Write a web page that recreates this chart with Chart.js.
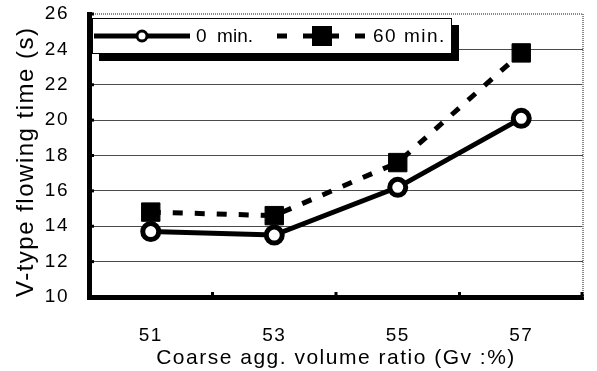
<!DOCTYPE html>
<html>
<head>
<meta charset="utf-8">
<title>V-type flowing time</title>
<script src="https://cdn.jsdelivr.net/npm/chart.js@4/dist/chart.umd.min.js"></script>
<style>
  html, body { margin: 0; padding: 0; background: #fff; }
  canvas { display: block; }
</style>
</head>
<body>
<canvas id="chart" width="597" height="371"></canvas>
<script>
// data
const ratios = ["51", "53", "55", "57"];
const time0 = [13.7, 13.5, 16.2, 20.1];
const time60 = [14.8, 14.6, 17.6, 23.8];
const yTicks = [10, 12, 14, 16, 18, 20, 22, 24, 26];
const seriesNames = ["0  min.", "60 min."];

Chart.defaults.font.family = "'Liberation Sans', Arial, sans-serif";
Chart.defaults.color = "#000";

// the original uses a widely spaced font, so open up the letter spacing
const spacedText = {
  id: "spacedText",
  beforeDraw(chart) { chart.ctx.letterSpacing = "1.5px"; },
  afterDraw(chart) { chart.ctx.letterSpacing = "0px"; }
};

// boxed legend with a drop shadow, top left of the plot
const boxLegend = {
  id: "boxLegend",
  afterDatasetsDraw(chart) {
    const { ctx, chartArea } = chart;
    const x0 = chartArea.left + 3, y0 = chartArea.top + 4;
    const w = 360, h = 36, my = y0 + h / 2;
    ctx.save();
    ctx.fillStyle = "#000";
    ctx.fillRect(x0 + 7, y0 + 7, w, h);
    ctx.fillStyle = "#fff";
    ctx.fillRect(x0, y0, w, h);
    ctx.strokeStyle = "#000";
    ctx.lineWidth = 1;
    ctx.strokeRect(x0 + 0.5, y0 + 0.5, w - 1, h - 1);

    ctx.font = "19px 'Liberation Sans', Arial, sans-serif";
    ctx.textBaseline = "middle";
    ctx.fillStyle = "#000";

    // first series: solid line, open circle
    ctx.lineWidth = 5;
    ctx.beginPath();
    ctx.moveTo(x0 + 2, my);
    ctx.lineTo(x0 + 98, my);
    ctx.stroke();
    ctx.beginPath();
    ctx.arc(x0 + 50, my, 5, 0, Math.PI * 2);
    ctx.fillStyle = "#fff";
    ctx.fill();
    ctx.lineWidth = 3;
    ctx.stroke();
    ctx.fillStyle = "#000";
    ctx.letterSpacing = "0px";
    ctx.fillText(chart.data.datasets[0].label, x0 + 104, my + 1);

    // second series: dashed line, filled square
    ctx.lineWidth = 5;
    ctx.setLineDash([10, 16]);
    ctx.beginPath();
    ctx.moveTo(x0 + 185, my);
    ctx.lineTo(x0 + 276, my);
    ctx.stroke();
    ctx.setLineDash([]);
    ctx.fillRect(x0 + 220, my - 10, 20, 20);
    ctx.letterSpacing = "1.5px";
    ctx.fillText(chart.data.datasets[1].label, x0 + 281, my + 1);
    ctx.restore();
  }
};

// dotted frame on top/right and the small tick marks inside the axes
const frameMarks = {
  id: "frameMarks",
  beforeDatasetsDraw(chart) {
    const { ctx, chartArea, scales } = chart;
    ctx.save();
    ctx.strokeStyle = "#8a8a8a";
    ctx.lineWidth = 2;
    ctx.setLineDash([1, 1]);
    ctx.beginPath();
    ctx.moveTo(chartArea.left, chartArea.top);
    ctx.lineTo(chartArea.right, chartArea.top);
    ctx.lineTo(chartArea.right, chartArea.bottom);
    ctx.stroke();
    ctx.setLineDash([]);

    ctx.fillStyle = "#000";
    yTicks.forEach(v => {
      const py = scales.y.getPixelForValue(v);
      ctx.fillRect(chartArea.left, py - 1.5, 5, 3);
    });
    for (let i = 0; i < ratios.length; i++) {
      const px = i < ratios.length - 1
        ? (scales.x.getPixelForValue(i) + scales.x.getPixelForValue(i + 1)) / 2
        : chartArea.right - 1;
      ctx.fillRect(px - 1.5, chartArea.bottom - 5, 3, 5);
    }
    ctx.restore();
  }
};

new Chart(document.getElementById("chart"), {
  type: "line",
  data: {
    labels: ratios,
    datasets: [
      {
        label: seriesNames[0],
        data: time0,
        borderColor: "#000",
        borderWidth: 5,
        pointStyle: "circle",
        pointRadius: 8,
        pointBorderWidth: 5,
        pointBackgroundColor: "#fff",
        pointBorderColor: "#000",
        tension: 0
      },
      {
        label: seriesNames[1],
        data: time60,
        borderColor: "#000",
        borderWidth: 5,
        borderDash: [10, 12],
        pointStyle: "rect",
        pointRadius: 13,
        pointBorderWidth: 1,
        pointBackgroundColor: "#000",
        pointBorderColor: "#000",
        tension: 0
      }
    ]
  },
  options: {
    responsive: false,
    animation: false,
    devicePixelRatio: 1,
    layout: { padding: { top: 13, right: 4, left: 0, bottom: 0 } },
    plugins: {
      legend: { display: false },
      tooltip: { enabled: false }
    },
    scales: {
      x: {
        type: "category",
        offset: true,
        afterFit: s => { s.height = 74; s.paddingLeft = 0; s.paddingRight = 0; },
        grid: { display: true, drawOnChartArea: false, drawTicks: false, offset: true },
        border: { display: true, width: 5, color: "#000" },
        ticks: { font: { size: 19 }, color: "#000", padding: 27 },
        title: {
          display: true,
          text: "Coarse agg. volume ratio (Gv :%)",
          font: { size: 21, lineHeight: 1.2 },
          color: "#000",
          padding: { top: 0, bottom: 0 }
        }
      },
      y: {
        min: 10,
        max: 26,
        afterFit: s => { s.width = 89; s.paddingTop = 0; s.paddingBottom = 0; },
        afterBuildTicks: s => { s.ticks = yTicks.map(v => ({ value: v })); },
        grid: {
          drawTicks: false,
          lineWidth: 1,
          color: c => (c.tick && (c.tick.value === 26 || c.tick.value === 10)) ? "rgba(0,0,0,0)" : "#4a4a4a"
        },
        border: { display: true, width: 5, color: "#000" },
        ticks: { font: { size: 19 }, color: "#000", padding: 20 },
        title: {
          display: true,
          align: "start",
          text: "V-type flowing time (s)",
          font: { size: 24, lineHeight: 1.2 },
          color: "#000",
          padding: { top: 12, bottom: 0 }
        }
      }
    }
  },
  plugins: [spacedText, frameMarks, boxLegend]
});
</script>
</body>
</html>
